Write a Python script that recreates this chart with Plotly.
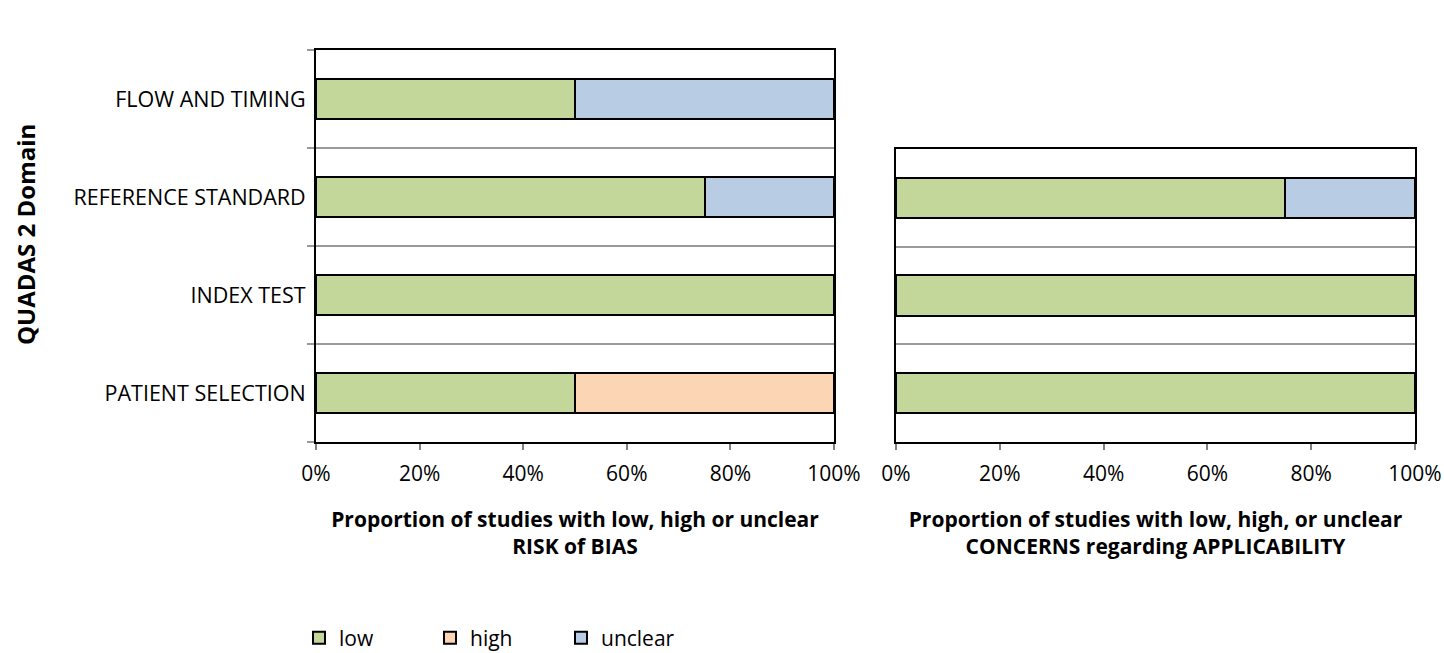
import plotly.graph_objects as go

# ---- data ----
domains_rob = ["PATIENT SELECTION", "INDEX TEST", "REFERENCE STANDARD", "FLOW AND TIMING"]
rob_low = [50, 100, 75, 50]
rob_high = [50, 0, 0, 0]
rob_unclear = [0, 0, 25, 50]

domains_app = ["PATIENT SELECTION", "INDEX TEST", "REFERENCE STANDARD"]
app_low = [100, 100, 75]
app_high = [0, 0, 0]
app_unclear = [0, 0, 25]

series_names = ["low", "high", "unclear"]
series_colors = ["#C4D79B", "#FCD5B4", "#B8CCE4"]
x_ticks = [0, 20, 40, 60, 80, 100]
x_tick_labels = [f"{v}%" for v in x_ticks]

W, H = 1444, 653
FONT = "Open Sans"
FS = 21


def nz(vals):
    return [v if v != 0 else None for v in vals]


fig = go.Figure()
rob_series = [rob_low, rob_high, rob_unclear]
app_series = [app_low, app_high, app_unclear]
for name, color, rv, av in zip(series_names, series_colors, rob_series, app_series):
    fig.add_trace(go.Bar(
        y=domains_rob, x=nz(rv), orientation="h", name=name,
        marker=dict(color=color, line=dict(color="black", width=2)),
        xaxis="x", yaxis="y", legendgroup=name, showlegend=True,
    ))
    fig.add_trace(go.Bar(
        y=domains_app, x=nz(av), orientation="h", name=name,
        marker=dict(color=color, line=dict(color="black", width=2)),
        xaxis="x2", yaxis="y2", legendgroup=name, showlegend=False,
    ))

xaxis_common = dict(
    range=[0, 100], tickmode="array", tickvals=x_ticks, ticktext=x_tick_labels,
    showline=True, mirror=True, linecolor="black", linewidth=2,
    ticks="outside", ticklen=6, tickcolor="#808080", tickwidth=2,
    showgrid=False, zeroline=False, fixedrange=True,
    tickfont=dict(family=FONT, size=FS, color="black"),
    ticklabelstandoff=6,
)
yaxis_common = dict(
    type="category", tickson="boundaries",
    showline=True, mirror=True, linecolor="black", linewidth=2,
    showgrid=True, gridcolor="#9A9A9A", gridwidth=2,
    zeroline=False, fixedrange=True,
)

fig.update_layout(
    width=W, height=H,
    margin=dict(l=0, r=0, t=0, b=0, autoexpand=False),
    paper_bgcolor="white", plot_bgcolor="white",
    barmode="stack", bargap=0.59,
    font=dict(family=FONT, size=FS, color="black"),
    xaxis=dict(
        domain=[316 / W, 834 / W], anchor="y",
        title=dict(text="<b>Proportion of studies with low, high or unclear<br>RISK of BIAS</b>",
                   standoff=26, font=dict(family=FONT, size=FS, color="black")),
        **xaxis_common,
    ),
    yaxis=dict(
        domain=[1 - 442 / H, 1 - 50 / H], anchor="x",
        categoryorder="array", categoryarray=domains_rob,
        ticks="outside", ticklen=7, tickcolor="#9A9A9A", tickwidth=2,
        tickfont=dict(family=FONT, size=21.5, color="black"),
        ticklabelstandoff=4,
        **yaxis_common,
    ),
    xaxis2=dict(
        domain=[896 / W, 1415 / W], anchor="y2",
        title=dict(text="<b>Proportion of studies with low, high, or unclear<br>CONCERNS regarding APPLICABILITY</b>",
                   standoff=26, font=dict(family=FONT, size=FS, color="black")),
        **xaxis_common,
    ),
    yaxis2=dict(
        domain=[1 - 442 / H, 1 - 149 / H], anchor="x2",
        categoryorder="array", categoryarray=domains_app,
        ticks="", showticklabels=False,
        **yaxis_common,
    ),
    legend=dict(
        orientation="h", x=299 / W, xanchor="left", y=1 - 638 / H, yanchor="middle",
        entrywidth=86, entrywidthmode="pixels",
        font=dict(family=FONT, size=FS, color="black"),
        traceorder="normal",
    ),
    annotations=[dict(
        text="<b>QUADAS 2 Domain</b>", textangle=-90,
        xref="paper", yref="paper", x=25 / W, y=1 - 235 / H,
        xanchor="center", yanchor="middle",
        showarrow=False, font=dict(family=FONT, size=24, color="black"),
    )],
)

fig.write_html("out.html", config={"displayModeBar": False},
               post_script="document.body.style.margin='0';")
